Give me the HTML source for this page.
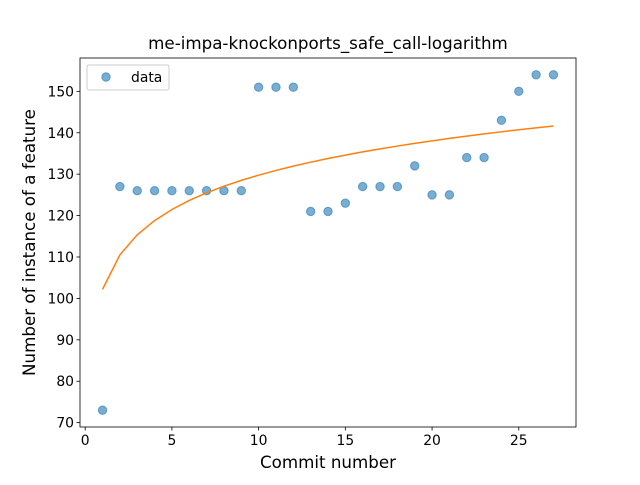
<!DOCTYPE html>
<html><head><meta charset="utf-8"><style>
body{margin:0;background:#fff;font-family:"Liberation Sans","DejaVu Sans",sans-serif}
svg text{font-family:"DejaVu Sans","Liberation Sans",sans-serif}
</style></head><body>
<svg id="chart" width="640" height="480" xmlns="http://www.w3.org/2000/svg"></svg>
<script>
const commits=[1,2,3,4,5,6,7,8,9,10,11,12,13,14,15,16,17,18,19,20,21,22,23,24,25,26,27];
const counts=[73,127,126,126,126,126,126,126,126,151,151,151,121,121,123,127,127,127,132,125,125,134,134,143,150,154,154];
const xTicks=[0,5,10,15,20,25];
const yTicks=[70,80,90,100,110,120,130,140,150];
const L=80,R=576,T=58,B=427;
const xmin=-0.3,xmax=28.3,ymin=68.95,ymax=158.05;
const X=v=>L+(v-xmin)/(xmax-xmin)*(R-L);
const Y=v=>B-(v-ymin)/(ymax-ymin)*(B-T);
const svg=document.getElementById('chart');
const NS='http://www.w3.org/2000/svg';
function mk(tag,attrs,name,parent){const e=document.createElementNS(NS,tag);for(const k in attrs)e.setAttribute(k,attrs[k]);


(parent||svg).appendChild(e);return e;}
const lx=commits.map(Math.log);const n=lx.length;
const mx=lx.reduce((a,b)=>a+b)/n,my=counts.reduce((a,b)=>a+b)/n;
let sxy=0,sxx=0;for(let i=0;i<n;i++){sxy+=(lx[i]-mx)*(counts[i]-my);sxx+=(lx[i]-mx)**2;}
const bb=sxy/sxx,aa=my-bb*mx;
commits.forEach((c,i)=>{mk('circle',{cx:X(c),cy:Y(counts[i]),r:4.2,fill:'#1f77b4','fill-opacity':0.6,stroke:'#1f77b4','stroke-opacity':0.6},'data-point');});
const pts=commits.map(c=>X(c)+','+Y(aa+bb*Math.log(c))).join(' ');
mk('polyline',{points:pts,fill:'none',stroke:'#ff7f0e','stroke-width':1.5},'fit-line');
mk('rect',{x:L,y:T,width:R-L,height:B-T,fill:'none',stroke:'#000','stroke-width':0.8},'plot-frame');
xTicks.forEach(t=>{mk('line',{x1:X(t),x2:X(t),y1:B,y2:B+3.5,stroke:'#000','stroke-width':0.8},'x-tick');
const tx=mk('text',{x:X(t),y:B+18,'text-anchor':'middle','font-size':13.9},'x-tick-label');tx.textContent=t;});
yTicks.forEach(t=>{mk('line',{x1:L-3.5,x2:L,y1:Y(t),y2:Y(t),stroke:'#000','stroke-width':0.8},'y-tick');
const tx=mk('text',{x:L-6,y:Y(t)+5,'text-anchor':'end','font-size':13.9},'y-tick-label');tx.textContent=t;});
const xt=mk('text',{x:(L+R)/2,y:468,'text-anchor':'middle','font-size':16.7},'x-axis-title');xt.textContent='Commit number';
const yt=mk('text',{x:35,y:(T+B)/2,'text-anchor':'middle','font-size':16.7,transform:`rotate(-90 35 ${(T+B)/2})`},'y-axis-title');yt.textContent='Number of instance of a feature';
const tt=mk('text',{x:(L+R)/2,y:49,'text-anchor':'middle','font-size':16.7},'chart-title');tt.textContent='me-impa-knockonports_safe_call-logarithm';
const lg=mk('g',{},'legend');
mk('rect',{x:87,y:65,width:82,height:25,rx:2,fill:'#fff','fill-opacity':0.8,stroke:'#ccc'},'legend-box',lg);
mk('circle',{cx:106,cy:77,r:4.2,fill:'#1f77b4','fill-opacity':0.6,stroke:'#1f77b4','stroke-opacity':0.6},'legend-marker',lg);
const lt=mk('text',{x:131,y:82,'font-size':13.9},'legend-label',lg);lt.textContent='data';
</script>
</body></html>
